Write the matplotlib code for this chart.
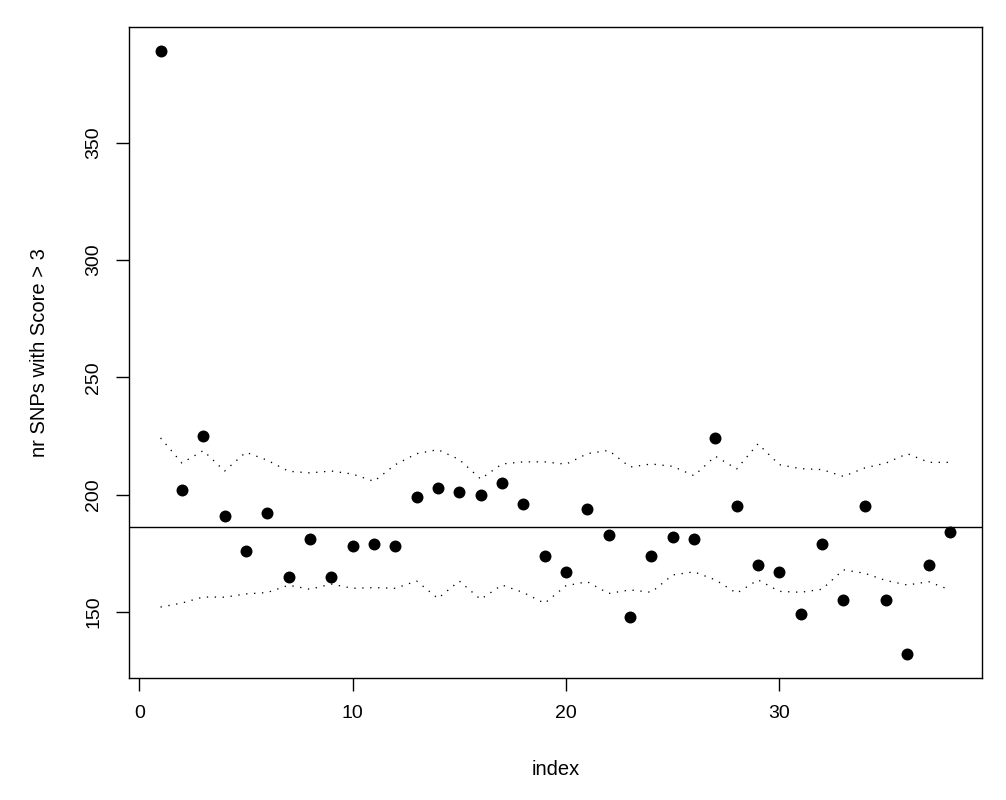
"""
Scatter of SNP counts per index with the reference line and the
upper/lower dotted envelopes, saved to out.png.
"""

import matplotlib

matplotlib.use("Agg")
import matplotlib.pyplot as plt

plt.rcParams["font.family"] = ["Liberation Sans", "DejaVu Sans"]

# Data
index = list(range(1, 39))
snp_counts = [389, 202, 225, 191, 176, 192, 165, 181, 165, 178,
              179, 178, 199, 203, 201, 200, 205, 196, 174, 167,
              194, 183, 148, 174, 182, 181, 224, 195, 170, 167,
              149, 179, 155, 195, 155, 132, 170, 184]
upper_band = [224.2, 213.5, 218.8, 210.1, 218.1, 214.7, 210.0, 209.3, 210.1, 208.8,
              205.7, 212.8, 217.5, 219.2, 215.0, 206.7, 213.1, 214.0, 214.0, 213.0,
              217.5, 218.9, 211.8, 213.1, 212.1, 208.1, 216.4, 211.0, 221.7, 212.8,
              211.1, 210.7, 207.8, 211.4, 213.5, 217.5, 213.8, 213.8]
lower_band = [152.1, 153.8, 156.4, 156.3, 157.7, 158.3, 161.4, 159.7, 161.9, 160.1,
              160.4, 160.1, 163.2, 155.8, 163.2, 155.4, 161.5, 158.3, 153.7, 161.2,
              162.9, 157.9, 159.4, 158.4, 165.8, 167.1, 163.7, 158.0, 163.7, 158.8,
              158.4, 159.7, 168.0, 166.5, 163.4, 161.5, 162.9, 159.4]
reference_level = 186.3
x_ticks = [0, 10, 20, 30]
y_ticks = [150, 200, 250, 300, 350]

fig = plt.figure(figsize=(10.06, 8.0), dpi=100)
ax = fig.add_axes([0.1282, 0.1521, 0.9758 - 0.1282, 0.9659 - 0.1521])

# Dotted envelopes
dots = (0, (1, 5))
ax.plot(index, upper_band, color="black", lw=0.95, linestyle=dots)
ax.plot(index, lower_band, color="black", lw=0.95, linestyle=dots)

# Reference line across the whole panel
ax.axhline(reference_level, color="black", lw=1.0)

# Points
ax.plot(index, snp_counts, "o", color="black", markersize=8.6, markeredgewidth=0)

# R-style axes: 4% padding around the data
x_pad = (max(index) - min(index)) * 0.04
ax.set_xlim(min(index) - x_pad, max(index) + x_pad)
y_lo, y_hi = min(snp_counts), max(snp_counts)
y_pad = (y_hi - y_lo) * 0.04
ax.set_ylim(y_lo - y_pad, y_hi + y_pad)

ax.set_xticks(x_ticks)
ax.set_yticks(y_ticks)
ax.set_yticklabels([str(v) for v in y_ticks], rotation=90, va="center")
ax.tick_params(axis="both", direction="out", length=9.4, width=1.0,
               labelsize=14, colors="black")
ax.tick_params(axis="x", pad=10)
ax.tick_params(axis="y", pad=10)
for spine in ax.spines.values():
    spine.set_linewidth(1.0)
    spine.set_color("black")

ax.set_xlabel("index", fontsize=14.5)
ax.set_ylabel("nr SNPs with Score > 3", fontsize=14.5)
ax.xaxis.set_label_coords(0.5, -0.125)
ax.yaxis.set_label_coords(-0.094, 0.5)

fig.savefig("out.png", dpi=100)
